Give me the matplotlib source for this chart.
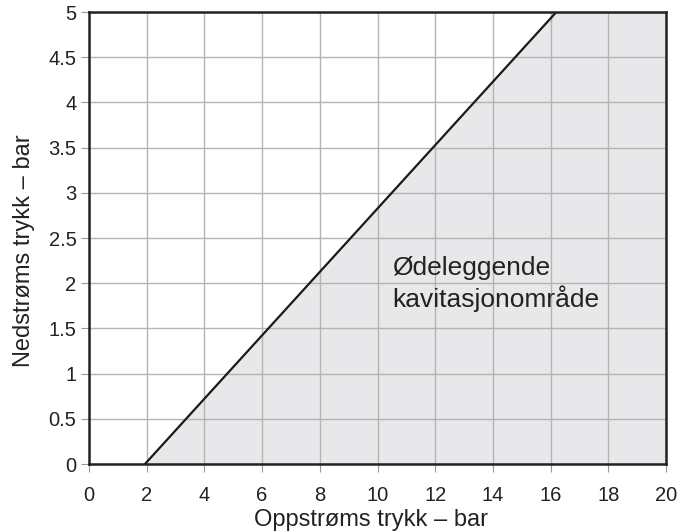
import matplotlib
matplotlib.use("Agg")
import matplotlib.pyplot as plt
import numpy as np

plt.rcParams['font.family'] = ['Liberation Sans', 'DejaVu Sans']

# Cavitation limit line: upstream pressure (bar) -> downstream pressure (bar)
upstream = [1.94, 16.2]
downstream = [0.0, 5.0]

x_ticks = [0, 2, 4, 6, 8, 10, 12, 14, 16, 18, 20]
y_ticks = [0, 0.5, 1, 1.5, 2, 2.5, 3, 3.5, 4, 4.5, 5]
y_tick_labels = ["0", "0.5", "1", "1.5", "2", "2.5", "3", "3.5", "4", "4.5", "5"]

fig = plt.figure(figsize=(6.8, 5.32), dpi=100)
ax = fig.add_axes([89/680, 1 - 464/532, (666-89)/680, (464-12)/532])

ax.set_xlim(0, 20)
ax.set_ylim(0, 5)

# Shaded destructive-cavitation zone (right of / below the limit line)
poly_x = [upstream[0], upstream[1], 20, 20]
poly_y = [downstream[0], downstream[1], 5, 0]
ax.fill(poly_x, poly_y, color="#e8e8eb", zorder=0, lw=0)

ax.set_xticks(x_ticks)
ax.set_yticks(y_ticks)
ax.set_yticklabels(y_tick_labels)
ax.grid(True, color="#b4b4b4", lw=1.0, zorder=1)
ax.set_axisbelow(True)

ax.plot(upstream, downstream, color="#1a1a1a", lw=1.6, zorder=3)

for s in ax.spines.values():
    s.set_linewidth(1.8)
    s.set_color("#222222")
    s.set_zorder(4)

ax.tick_params(axis="both", direction="out", length=6, width=0.8,
               color="#999999", labelsize=14.5, labelcolor="#222222")
ax.tick_params(axis="x", pad=10)
ax.tick_params(axis="y", pad=3)

ax.set_xlabel("Oppstrøms trykk – bar", fontsize=17, color="#222222")
ax.set_ylabel("Nedstrøms trykk – bar", fontsize=17, color="#222222")
ax.xaxis.set_label_coords(0.488, -0.1)
ax.xaxis.label.set_va("top")
ax.yaxis.set_label_coords(-0.094, 0.471)

ax.text(10.5, 1.74, "Ødeleggende\nkavitasjonområde", fontsize=19,
        color="#222222", ha="left", va="baseline", linespacing=1.25, zorder=5)

fig.savefig("out.png", dpi=100)
